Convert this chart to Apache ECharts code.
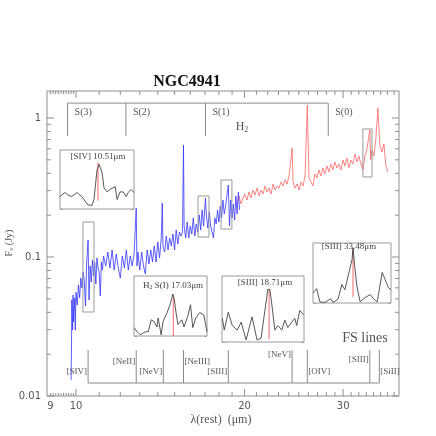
<!DOCTYPE html>
<html><head><meta charset="utf-8">
<script src="https://cdn.jsdelivr.net/npm/echarts@6/dist/echarts.min.js"></script>
<style>html,body{margin:0;padding:0;background:#fff}#c{width:436px;height:436px}</style>
</head><body><div id="c"></div>
<script>
// ---------------- DATA ----------------
const blueWave = [9.80,9.82,9.83,9.86,9.88,9.90,9.95,9.97,10.00,10.05,10.10,10.15,10.20,10.25,10.30,10.35,10.40,10.45,10.51,10.55,10.60,10.65,10.70,10.75,10.80,10.85,10.90,10.95,11.00,11.05,11.10,11.15,11.20,11.30,11.40,11.50,11.60,11.70,11.80,11.90,12.00,12.10,12.20,12.30,12.40,12.50,12.60,12.70,12.81,12.85,12.90,13.00,13.10,13.20,13.30,13.40,13.50,13.60,13.70,13.80,13.90,14.00,14.10,14.20,14.26,14.30,14.40,14.50,14.60,14.70,14.80,14.90,15.00,15.10,15.20,15.30,15.40,15.50,15.56,15.60,15.70,15.80,15.90,16.00,16.10,16.20,16.30,16.40,16.50,16.60,16.70,16.80,16.90,17.03,17.10,17.20,17.30,17.40,17.50,17.60,17.70,17.80,17.90,18.00,18.10,18.20,18.30,18.40,18.50,18.60,18.71,18.80,18.90,19.00,19.10,19.20,19.30,19.40,19.50,19.60];
const blueFlux = [0.0130,0.0253,0.0491,0.0298,0.0533,0.0341,0.0507,0.0298,0.0560,0.0452,0.0629,0.0507,0.0706,0.0598,0.0780,0.0661,0.0444,0.0920,0.1325,0.0491,0.0862,0.0661,0.0952,0.0730,0.0920,0.0639,0.0984,0.0834,0.0780,0.0524,0.0920,0.0806,0.1017,0.0862,0.1086,0.0834,0.1123,0.0806,0.1050,0.0834,0.0706,0.1017,0.0834,0.1123,0.0806,0.1017,0.0862,0.1050,0.2252,0.0862,0.1086,0.0806,0.1086,0.0862,0.0755,0.1123,0.0891,0.1123,0.0920,0.1200,0.0920,0.1282,0.0984,0.1370,0.2446,0.1200,0.1086,0.1416,0.1123,0.1370,0.1200,0.1464,0.1123,0.1564,0.1240,0.1513,0.1416,0.1513,0.6393,0.1671,0.1370,0.1786,0.1370,0.1671,0.1464,0.1909,0.1416,0.1728,0.1513,0.2006,0.1564,0.2179,0.1671,0.2658,0.1972,0.1617,0.2108,0.1671,0.1513,0.1370,0.1909,0.1728,0.2179,0.1786,0.2327,0.1909,0.2571,0.2039,0.2327,0.2747,0.3296,0.1671,0.2571,0.1909,0.2406,0.1846,0.2747,0.2039,0.2935,0.2179];

const redWave = [19.39,19.55,19.71,19.87,20.03,20.20,20.37,20.54,20.71,20.88,21.05,21.23,21.40,21.58,21.76,21.94,22.12,22.30,22.49,22.67,22.86,23.05,23.24,23.43,23.63,23.82,24.02,24.32,24.42,24.62,24.82,25.03,25.23,25.44,25.65,25.89,26.07,26.28,26.50,26.72,26.94,27.16,27.38,27.61,27.84,28.07,28.30,28.53,28.77,29.00,29.24,29.48,29.73,29.97,30.22,30.47,30.72,30.97,31.23,31.49,31.75,32.01,32.27,32.54,32.81,33.08,33.48,33.60,33.78,34.05,34.33,34.61,34.90,35.19,35.48,35.77,36.06];
const redFlux = [0.2406,0.2747,0.2406,0.2658,0.2839,0.2571,0.2935,0.2658,0.3034,0.2793,0.3136,0.2747,0.3034,0.2839,0.3241,0.2935,0.3136,0.2839,0.3350,0.3034,0.3241,0.3136,0.3464,0.3241,0.3581,0.3350,0.3826,0.6086,0.3464,0.3136,0.3350,0.3034,0.3464,0.3241,0.3826,1.240,0.3701,0.3581,0.3241,0.3955,0.3701,0.4226,0.3826,0.4369,0.3955,0.4516,0.4089,0.4668,0.4226,0.4826,0.4369,0.4668,0.4226,0.4988,0.4516,0.5157,0.4369,0.4988,0.4668,0.5510,0.4826,0.5330,0.4668,0.4226,0.5330,0.5888,0.8198,0.4988,0.5888,0.5330,0.7178,1.180,0.6291,0.5696,0.6502,0.4516,0.4089];

// H2 rotational lines and fine-structure lines (micron)
const h2Lines = [9.66, 12.28, 17.03, 28.22];
const h2Names = ['S(3)', 'S(2)', 'S(1)', 'S(0)'];
const fsLines = [10.51, 12.81, 14.32, 15.56, 18.71, 24.32, 25.89, 33.48, 34.82];
const fsNames = ['[SIV]', '[NeII]', '[NeV]', '[NeIII]', '[SIII]', '[NeV]', '[OIV]', '[SIII]', '[SiII]'];

// zoom boxes on main spectrum: [lambda1, lambda2, F1, F2]
const boxLam1 = [10.29, 16.52, 18.16, 32.54];
const boxLam2 = [10.77, 17.28, 18.99, 33.78];
const boxF1 = [0.0402, 0.1393, 0.159, 0.3765];
const boxF2 = [0.1786, 0.2747, 0.358, 0.834];

// axis ticks
const xMajorTicks = [10, 20, 30];
const xMinorTicks = [11,12,13,14,15,16,17,18,19,21,22,23,24,25,26,27,28,29,31,32,33,34,35,36,37];
const xFineTicks = [9.0,9.1,9.2,9.3,9.4,9.5,9.6,9.7,9.8,9.9];
const xTickLabels = [9, 10, 20, 30];
const yMajorTicks = [0.01, 0.1, 1];
const yMinorTicks = [0.02,0.03,0.04,0.05,0.06,0.07,0.08,0.09,0.2,0.3,0.4,0.5,0.6,0.7,0.8,0.9];
const yTickLabels = ['0.01', '0.1', '1'];

// insets (wavelength, normalised flux)
const ins1Wave = [10.310,10.335,10.351,10.372,10.399,10.425,10.457,10.478,10.489,10.505,10.516,10.532,10.542,10.558,10.574,10.601,10.611,10.627,10.643,10.659,10.669,10.685,10.700];
const ins1Flux = [0.21,0.28,0.24,0.21,0.28,0.21,0.07,0.06,0.16,0.66,0.76,0.61,0.36,0.29,0.33,0.38,0.16,0.29,0.29,0.21,0.28,0.33,0.28];
const ins2Wave = [16.820,16.837,16.853,16.880,16.896,16.912,16.928,16.943,16.949,16.965,16.975,16.997,17.012,17.028,17.036,17.044,17.055,17.076,17.087,17.108,17.122,17.134,17.150,17.171,17.193,17.210];
const ins2Flux = [0.14,0.07,0.02,0.07,0.07,0.27,0.24,0.15,0.30,0.02,0.24,0.39,0.52,0.70,0.60,0.40,0.19,0.27,0.15,0.34,0.52,0.14,0.30,0.39,0.35,0.07];
const ins3Wave = [18.442,18.453,18.476,18.499,18.527,18.550,18.578,18.612,18.641,18.664,18.686,18.703,18.715,18.726,18.743,18.760,18.783,18.800,18.817,18.840,18.857,18.868,18.886,18.908];
const ins3Flux = [0.36,0.18,0.45,0.25,0.18,0.30,0.03,0.38,0.03,0.06,0.48,0.80,0.79,0.56,0.18,0.25,0.18,0.33,0.22,0.30,0.36,0.25,0.48,0.41];
const ins4Wave = [33.080,33.117,33.148,33.198,33.258,33.279,33.329,33.369,33.399,33.430,33.470,33.480,33.500,33.520,33.551,33.601,33.651,33.692,33.722,33.772,33.802,33.832,33.860];
const ins4Flux = [0.17,0.24,0.02,0.01,0.07,0.01,0.06,0.31,0.22,0.44,0.72,0.92,0.56,0.27,0.02,0.09,0.14,0.06,0.02,0.51,0.39,0.26,0.22];
const insCenter = [10.51, 17.03, 18.71, 33.48];
const insMarkLo = [0.14, 0.0, 0.04, 0.10];
const insMarkHi = [0.79, 0.65, 0.79, 0.89];
const insWaveMin = [10.31, 16.82, 18.44, 33.08];
const insWaveMax = [10.70, 17.21, 18.91, 33.86];
const insTitles = ['[SIV] 10.51μm', 'H{s|2} S(I) 17.03μm', '[SIII] 18.71μm', '[SIII] 33.48μm'];

// ---------------- LAYOUT / STYLE ----------------
const X_MIN = 8.876, X_MAX = 37.75, Y_MIN = 0.01, Y_MAX = 1.564;
const H2_TOP = 1.28, H2_BOT = 0.742;
const FS_BOT = 0.0124, FS_TOP = 0.0214;
const fsAlign = ['right','right','right','left','right','right','left','right','left'];
const fsRaise = [11, 21, 11, 21, 11, 28, 11, 23, 11];
const insBox = [[60,150,74,59],[134,276,73,60],[222,276,82,66],[313,243,78,60]];
const insTitlePos = [[98,157],[173,286],[265,283],[349,247]];
const AX = '#8f8f8f', GR = '#8a8a8a', TX = '#555';
const SERIF = '"Liberation Serif", "DejaVu Serif", serif';
const SANS = '"DejaVu Sans", sans-serif';

const chart = echarts.init(document.getElementById('c'), null, {renderer: 'canvas'});

const grids = [{left:47, top:91, width:352, height:305, show:true, borderColor:AX, borderWidth:1, backgroundColor:'transparent'}];
const xAxes = [{type:'log', logBase:10, gridIndex:0, min:X_MIN, max:X_MAX, show:false}];
const yAxes = [{type:'log', logBase:10, gridIndex:0, min:Y_MIN, max:Y_MAX, show:false}];
insBox.forEach((b,k) => {
  grids.push({left:b[0], top:b[1], width:b[2], height:b[3], show:true, borderColor:'#9a9a9a', borderWidth:1, backgroundColor:'#fff', z:5});
  xAxes.push({type:'value', gridIndex:k+1, min:insWaveMin[k], max:insWaveMax[k], show:false});
});
insBox.forEach((b,k) => {
  yAxes.push({type:'value', gridIndex:k+1, min:0, max:1, interval:0.25, axisLine:{show:false}, axisLabel:{show:false}, splitLine:{show:false}, axisTick:{inside:true, length:3, lineStyle:{color:'#aaa'}}});
});
insBox.forEach((b,k) => {
  yAxes.push({type:'value', gridIndex:k+1, position:'right', min:0, max:1, interval:0.25, axisLine:{show:false}, axisLabel:{show:false}, splitLine:{show:false}, axisTick:{inside:true, length:3, lineStyle:{color:'#aaa'}}});
});

// tick items
const tickItems = [];
xMajorTicks.forEach(v => tickItems.push({d:'x', v, len:7}));
xMinorTicks.forEach(v => tickItems.push({d:'x', v, len:4}));
xFineTicks.forEach(v => tickItems.push({d:'x', v, len:3}));
yMajorTicks.forEach(v => tickItems.push({d:'y', v, len:7}));
yMinorTicks.forEach(v => tickItems.push({d:'y', v, len:4}));

function ln(x1,y1,x2,y2,color,w){ return {type:'line', shape:{x1,y1,x2,y2}, style:{stroke:color, lineWidth:w||1}}; }
function tx(x,y,text,font,fill,align,valign,extra){ return {type:'text', x, y, style:Object.assign({text, font, fill, align, verticalAlign:valign, textAlign:align, textVerticalAlign:valign}, extra||{})}; }

const series = [];
series.push({type:'line', xAxisIndex:0, yAxisIndex:0, data: blueWave.map((w,i)=>[w, blueFlux[i]]), showSymbol:false, symbol:'none', lineStyle:{color:'#3535ff', width:0.8}, z:3, silent:true});
series.push({type:'line', xAxisIndex:0, yAxisIndex:0, data: redWave.map((w,i)=>[w, redFlux[i]]), showSymbol:false, symbol:'none', lineStyle:{color:'#ff6464', width:0.8}, z:2, silent:true});

// axis ticks
series.push({type:'custom', xAxisIndex:0, yAxisIndex:0, silent:true, z:6,
  data: tickItems.map(t => t.d==='x' ? [t.v, Y_MIN] : [X_MIN, t.v]),
  renderItem: (p, api) => {
    const t = tickItems[p.dataIndex];
    if (t.d === 'x') {
      const b = api.coord([t.v, Y_MIN]), tp = api.coord([t.v, Y_MAX]);
      return {type:'group', children:[ln(b[0],b[1],b[0],b[1]-t.len,AX), ln(tp[0],tp[1],tp[0],tp[1]+t.len,AX)]};
    }
    const l = api.coord([X_MIN, t.v]), r = api.coord([X_MAX, t.v]);
    return {type:'group', children:[ln(l[0],l[1],l[0]+t.len,l[1],AX), ln(r[0],r[1],r[0]-t.len,r[1],AX)]};
  }});
// tick labels
series.push({type:'custom', xAxisIndex:0, yAxisIndex:0, silent:true, z:6,
  data: xTickLabels.map(v => [v, Y_MIN]),
  renderItem: (p, api) => { const c = api.coord([xTickLabels[p.dataIndex], Y_MIN]); return tx(c[0], c[1]+10, String(xTickLabels[p.dataIndex]), '10px '+SANS, TX, 'center', 'middle'); }});
series.push({type:'custom', xAxisIndex:0, yAxisIndex:0, silent:true, z:6,
  data: yMajorTicks.map(v => [X_MIN, v]),
  renderItem: (p, api) => { const c = api.coord([X_MIN, yMajorTicks[p.dataIndex]]); return tx(c[0]-6, c[1], yTickLabels[p.dataIndex], '10px '+SANS, TX, 'right', 'middle'); }});
// zoom boxes
series.push({type:'custom', xAxisIndex:0, yAxisIndex:0, silent:true, z:4,
  data: boxLam1.map((v,i) => [v, boxF1[i]]),
  renderItem: (p, api) => {
    const i = p.dataIndex;
    const a = api.coord([boxLam1[i], boxF2[i]]), b = api.coord([boxLam2[i], boxF1[i]]);
    return {type:'rect', shape:{x:a[0], y:a[1], width:b[0]-a[0], height:b[1]-a[1]}, style:{stroke:'#999', fill:null, lineWidth:1}};
  }});
// H2 bracket
series.push({type:'custom', xAxisIndex:0, yAxisIndex:0, silent:true, z:4,
  data: h2Lines.map(v => [v, H2_TOP]),
  renderItem: (p, api) => {
    const i = p.dataIndex;
    const t = api.coord([h2Lines[i], H2_TOP]), b = api.coord([h2Lines[i], H2_BOT]);
    const ch = [ln(t[0],t[1],b[0],b[1],GR), tx(t[0]+7, t[1]+9, h2Names[i], '10px '+SERIF, TX, 'left', 'middle')];
    if (i === 0) { const e = api.coord([h2Lines[h2Lines.length-1], H2_TOP]); ch.push(ln(t[0],t[1],e[0],e[1],GR)); }
    return {type:'group', children:ch};
  }});
// FS lines bracket
series.push({type:'custom', xAxisIndex:0, yAxisIndex:0, silent:true, z:4,
  data: fsLines.map(v => [v, FS_BOT]),
  renderItem: (p, api) => {
    const i = p.dataIndex;
    const b = api.coord([fsLines[i], FS_BOT]), t = api.coord([fsLines[i], FS_TOP]);
    const dx = fsAlign[i] === 'right' ? -1 : 1;
    const ch = [ln(b[0],b[1],t[0],t[1],GR), tx(b[0]+dx, b[1]-fsRaise[i], fsNames[i], '9px '+SERIF, TX, fsAlign[i], 'middle')];
    if (i === 0) { const e = api.coord([fsLines[fsLines.length-1], FS_BOT]); ch.push(ln(b[0],b[1],e[0],e[1],GR)); }
    return {type:'group', children:ch};
  }});

// insets
const insWave = [ins1Wave, ins2Wave, ins3Wave, ins4Wave];
const insFlux = [ins1Flux, ins2Flux, ins3Flux, ins4Flux];
insWave.forEach((w,k) => {
  series.push({type:'line', xAxisIndex:k+1, yAxisIndex:k+1, data: w.map((x,i)=>[x, insFlux[k][i]]), showSymbol:false, symbol:'none', lineStyle:{color:'#444', width:0.9}, z:7, silent:true});
  series.push({type:'line', xAxisIndex:k+1, yAxisIndex:k+1, data: [[insCenter[k], insMarkLo[k]], [insCenter[k], insMarkHi[k]]], showSymbol:false, symbol:'none', lineStyle:{color: k===0 ? '#f7b0b0' : '#ee6a6a', width: k===0 ? 2 : 1}, z:6, silent:true});
});

const graphics = [
  {type:'text', x:187, y:82, style:{text:'NGC4941', font:'bold 16px '+SERIF, fill:'#111', align:'center', verticalAlign:'middle', textAlign:'center', textVerticalAlign:'middle'}},
  {type:'text', x:221, y:420, style:{text:'λ(rest)  (μm)', font:'12px '+SERIF, fill:TX, align:'center', verticalAlign:'middle', textAlign:'center', textVerticalAlign:'middle'}},
  {type:'text', x:9, y:243, rotation:Math.PI/2, style:{text:'F{s|ν} (Jy)', font:'10px '+SERIF, fill:TX, align:'center', verticalAlign:'middle', textAlign:'center', textVerticalAlign:'middle', rich:{s:{fontSize:7, fontFamily:'Liberation Serif', fill:TX, verticalAlign:'bottom', padding:[4,0,0,0]}}}},
  {type:'text', x:242, y:127, style:{text:'H{s|2}', font:'12px '+SERIF, fill:TX, align:'center', verticalAlign:'middle', textAlign:'center', textVerticalAlign:'middle', rich:{s:{fontSize:8, fontFamily:'Liberation Serif', fill:TX, verticalAlign:'bottom', padding:[5,0,0,0]}}}},
  {type:'text', x:365, y:338, style:{text:'FS lines', font:'14px '+SERIF, fill:TX, align:'center', verticalAlign:'middle', textAlign:'center', textVerticalAlign:'middle'}}
];
insTitlePos.forEach((pp,k) => {
  graphics.push({type:'text', x:pp[0], y:pp[1], z:20, style:{text:insTitles[k], font:'9px '+SERIF, fill:'#444', align:'center', verticalAlign:'middle', textAlign:'center', textVerticalAlign:'middle', rich:{s:{fontSize:6, fontFamily:'Liberation Serif', fill:'#444', verticalAlign:'bottom', padding:[3,0,0,0]}}}});
});

chart.setOption({
  animation:false,
  backgroundColor:'#fff',
  grid: grids, xAxis: xAxes, yAxis: yAxes,
  series: series,
  graphic: graphics
});
</script></body></html>
